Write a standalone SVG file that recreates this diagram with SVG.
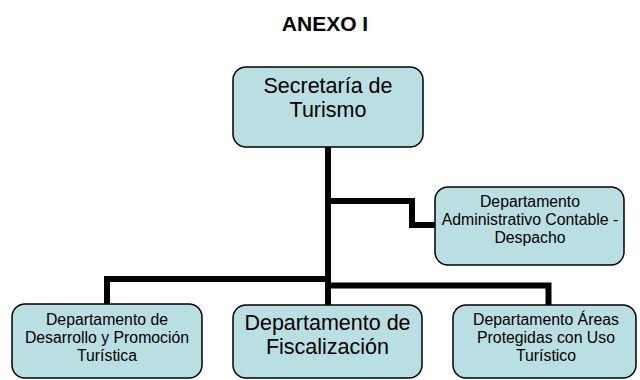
<svg xmlns="http://www.w3.org/2000/svg" width="640" height="380" viewBox="0 0 640 380">
<style>
.box{fill:#BADFE2;stroke:#000;stroke-width:1.5}
.t{font-family:"Liberation Sans",Arial,sans-serif;text-anchor:middle;fill:#000}
.s{font-size:15.8px}
.l{font-size:21.5px}
.title{font-family:"Liberation Sans",Arial,sans-serif;font-weight:bold;font-size:21px;text-anchor:middle}
.c{fill:none;stroke:#000;stroke-width:6;stroke-linejoin:miter;stroke-linecap:butt}
</style>
<rect width="640" height="380" fill="#fff"/>
<text class="title" x="325" y="31">ANEXO I</text>
<g id="connectors">
<path class="c" d="M328 147 V305"/>
<path class="c" d="M328 201 H412 V225 H435"/>
<path class="c" d="M328 279 H107 V304"/>
<path class="c" d="M328 285.5 H548.5 V305"/>
</g>
<g id="secretaria">
<rect class="box" x="233" y="67" width="190" height="80" rx="13"/>
<text class="t l" x="328" y="93">Secretaría de</text>
<text class="t l" x="328" y="117">Turismo</text>
</g>
<g id="administrativo">
<rect class="box" x="435" y="187" width="189" height="78" rx="13"/>
<text class="t s" x="530" y="207">Departamento</text>
<text class="t s" x="530" y="225">Administrativo Contable -</text>
<text class="t s" x="530" y="243">Despacho</text>
</g>
<g id="desarrollo">
<rect class="box" x="12" y="304" width="190" height="74" rx="13"/>
<text class="t s" x="107" y="325">Departamento de</text>
<text class="t s" x="107" y="343">Desarrollo y Promoción</text>
<text class="t s" x="107" y="361">Turística</text>
</g>
<g id="fiscalizacion">
<rect class="box" x="233" y="305" width="189" height="73" rx="13"/>
<text class="t l" x="327.5" y="330">Departamento de</text>
<text class="t l" x="327.5" y="354">Fiscalización</text>
</g>
<g id="areas">
<rect class="box" x="453" y="305" width="183" height="73" rx="13"/>
<text class="t s" x="546" y="325">Departamento Áreas</text>
<text class="t s" x="546" y="343">Protegidas con Uso</text>
<text class="t s" x="546" y="361">Turístico</text>
</g>
</svg>
